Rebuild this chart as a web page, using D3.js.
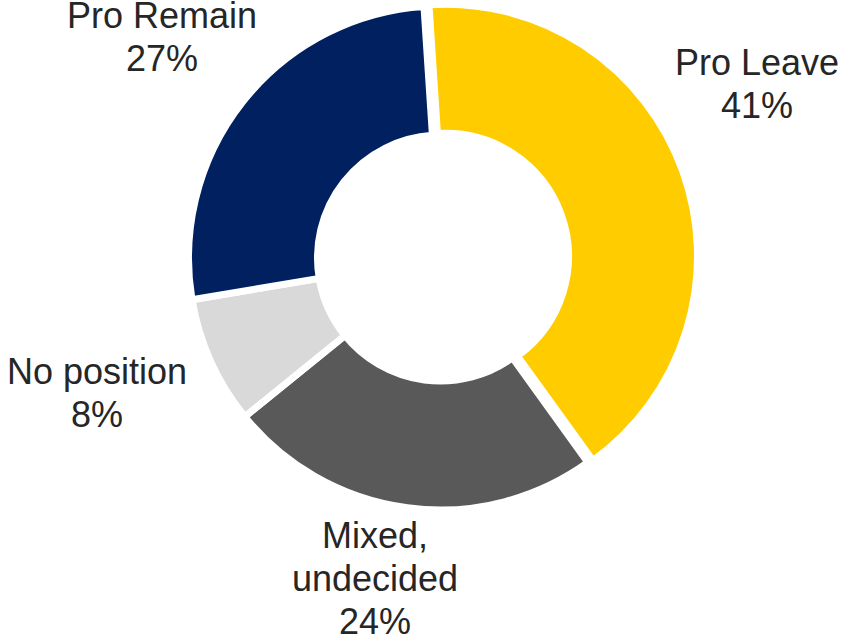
<!DOCTYPE html>
<html>
<head>
<meta charset="utf-8">
<script src="https://cdn.jsdelivr.net/npm/d3@7"></script>
<style>
  html, body { margin: 0; padding: 0; background: #fff; }
  svg { display: block; }
  text { font-family: "Liberation Sans", Arial, sans-serif; }
</style>
</head>
<body>
<svg id="chart" width="842" height="640"></svg>
<script>
// ---- data ----
const categories = ["Pro Leave", "Mixed, undecided", "No position", "Pro Remain"];
const values = [41.1, 24.1, 8.2, 26.6];
const percentLabels = ["41%", "24%", "8%", "27%"];
const labelLines = [["Pro Leave"], ["Mixed,", "undecided"], ["No position"], ["Pro Remain"]];
const colors = ["#FFCC00", "#595959", "#D9D9D9", "#002060"];

// ---- layout ----
const W = 842, H = 640;
const cx = 440.5, cy = 258;
const outerR = 252, innerR = 123;
const startDeg = -3.76;
const explode = [5.3, 0, 0, 0];
// label anchor positions (center x, first baseline y)
const labelPos = [[757, 75], [375, 548], [97, 384], [162, 28]];
const lineH = 43;

const svg = d3.select("#chart");
const g = svg.append("g").attr("transform", `translate(${cx},${cy})`);

const pie = d3.pie().sort(null).value(d => d)
  .startAngle(startDeg * Math.PI / 180)
  .endAngle(startDeg * Math.PI / 180 + 2 * Math.PI);
const arcs = pie(values);
const arc = d3.arc().innerRadius(innerR).outerRadius(outerR);

g.selectAll("path.slice")
  .data(arcs)
  .join("path")
  .attr("class", "slice")
  .attr("d", arc)
  .attr("fill", (d, i) => colors[i])
  .attr("stroke", "#fff")
  .attr("stroke-width", 7)
  .attr("stroke-linejoin", "miter")
  .attr("transform", (d, i) => {
    const a = (d.startAngle + d.endAngle) / 2;
    return `translate(${Math.sin(a) * explode[i]},${-Math.cos(a) * explode[i]})`;
  });

const labels = svg.selectAll("text.lbl")
  .data(arcs)
  .join("text")
  .attr("class", "lbl")
  .attr("text-anchor", "middle")
  .attr("font-size", 36)
  .attr("fill", "#262626");

labels.each(function(d, i) {
  const t = d3.select(this);
  const lines = labelLines[i].concat([percentLabels[i]]);
  lines.forEach((s, k) => {
    t.append("tspan")
      .attr("x", labelPos[i][0])
      .attr("y", labelPos[i][1] + k * lineH)
      .text(s);
  });
});
</script>
</body>
</html>
